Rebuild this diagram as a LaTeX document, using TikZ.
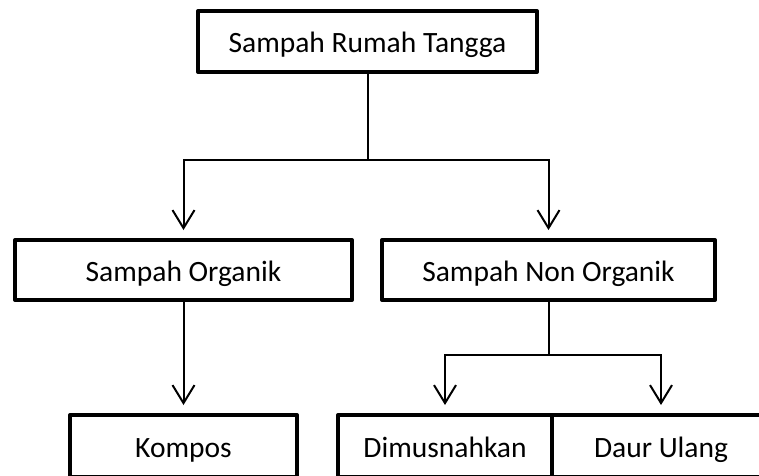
\documentclass[tikz,border=0pt]{standalone}
\usepackage{fontspec}
\setmainfont{Carlito}
\usetikzlibrary{arrows.meta}

\tikzset{
  kotak/.style={draw, line width=4pt, line join=round, inner sep=0pt,
    text height=22pt, text depth=0pt,
    font=\fontsize{29.5}{35}\selectfont},
  garis/.style={line width=2pt},
  panah/.style={garis, -{Straight Barb[length=18pt,width=22pt,line width=2pt]}, shorten >=8pt}
}

\begin{document}
\begin{tikzpicture}[x=1pt, y=-1pt]
    \useasboundingbox (0,0) rectangle (759,475);
    \clip (0,0) rectangle (759,475);
    % level 0
    \node[kotak, minimum width=339pt, minimum height=61pt] (rumah) at (367.5,41.5) {Sampah Rumah Tangga};
    % level 1
    \node[kotak, minimum width=337pt, minimum height=60pt] (organik) at (183.5,270) {Sampah Organik};
    \node[kotak, minimum width=333pt, minimum height=60pt] (nonorganik) at (548.5,270) {Sampah Non Organik};
    % level 2 (cut off at the bottom and right edge)
    \node[kotak, minimum width=227pt, minimum height=62pt] (kompos) at (183.5,446) {Kompos};
    \node[kotak, minimum width=214pt, minimum height=62pt] (musnah) at (445,446) {Dimusnahkan};
    \node[kotak, minimum width=218pt, minimum height=62pt] (daur) at (661,446) {Daur Ulang};
    % branch points
    \coordinate (cabang1) at (rumah |- 0,160);
    \coordinate (cabang2) at (nonorganik |- 0,355);
    \draw[garis] (rumah) -- (cabang1);
    \draw[panah] (cabang1) -| (organik);
    \draw[panah] (cabang1) -| (nonorganik);
    \draw[panah] (organik) -- (kompos);
    \draw[garis] (nonorganik) -- (cabang2);
    \draw[panah] (cabang2) -| (musnah);
    \draw[panah] (cabang2) -| (daur);
\end{tikzpicture}
\end{document}
